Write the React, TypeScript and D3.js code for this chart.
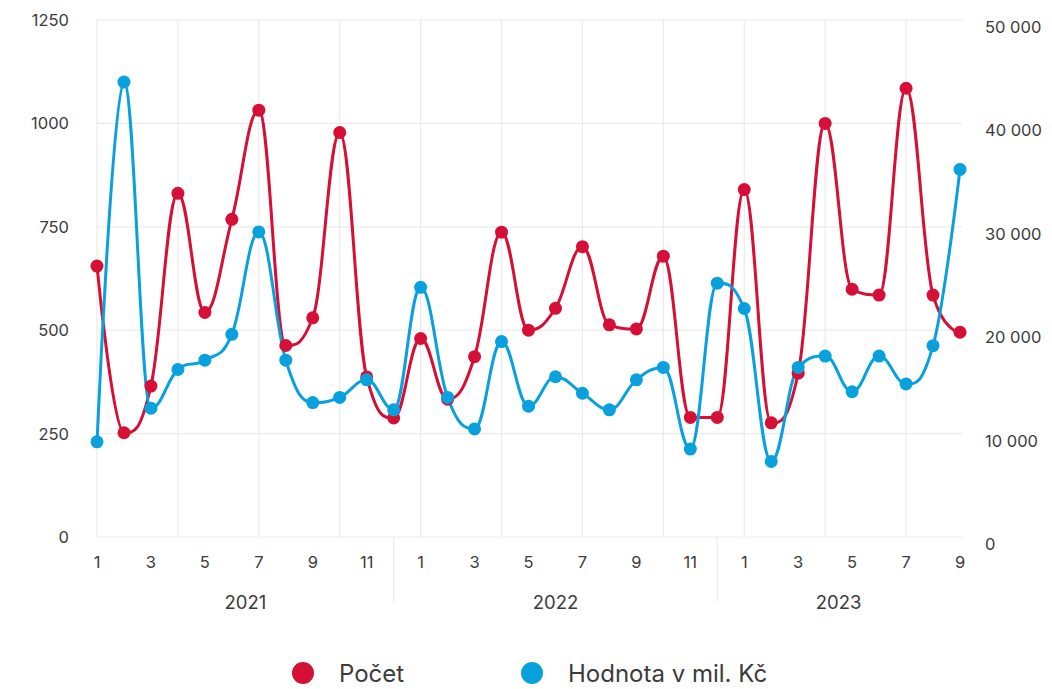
import React from "react";
import * as d3 from "d3";

const years = ["2021", "2022", "2023"];
const monthsPerYear = [12, 12, 9];
const count = [655, 252, 365, 831, 543, 768, 1032, 463, 530, 978, 387, 288, 480, 333, 436, 737, 500, 553, 702, 513, 503, 679, 289, 289, 840, 276, 396, 1000, 599, 585, 1085, 585, 495];
const value = [9200, 44000, 12450, 16200, 17100, 19600, 29500, 17100, 13000, 13500, 15200, 12300, 24150, 13500, 10450, 18900, 12650, 15500, 13900, 12300, 15200, 16400, 8500, 24550, 22100, 7300, 16400, 17500, 14050, 17500, 14800, 18500, 35550];
const leftTicks = [0, 250, 500, 750, 1000, 1250];
const rightTicks = [0, 10000, 20000, 30000, 40000, 50000];
const seriesNames = ["Počet", "Hodnota v mil. Kč"];
const colors = ["#d50f36", "#09a1dd"];

type P = { x: number; y: number };

function splinePath(pts: P[]): string {
  const smoothing = 1.5;
  const denom = smoothing + 1;
  const path = d3.path();
  const rc: { x?: number; y?: number }[] = pts.map(() => ({}));
  pts.forEach((p, i) => {
    const last = pts[i - 1];
    const next = pts[i + 1];
    let lcx: number | undefined, lcy: number | undefined;
    if (last && next) {
      lcx = (smoothing * p.x + last.x) / denom;
      lcy = (smoothing * p.y + last.y) / denom;
      const rcx = (smoothing * p.x + next.x) / denom;
      let rcy = (smoothing * p.y + next.y) / denom;
      let correction = 0;
      if (rcx !== lcx) {
        correction = ((rcy - lcy) * (rcx - p.x)) / (rcx - lcx) + p.y - rcy;
      }
      lcy += correction;
      rcy += correction;
      if (lcy > last.y && lcy > p.y) {
        lcy = Math.max(last.y, p.y);
        rcy = 2 * p.y - lcy;
      } else if (lcy < last.y && lcy < p.y) {
        lcy = Math.min(last.y, p.y);
        rcy = 2 * p.y - lcy;
      }
      if (rcy > next.y && rcy > p.y) {
        rcy = Math.max(next.y, p.y);
        lcy = 2 * p.y - rcy;
      } else if (rcy < next.y && rcy < p.y) {
        rcy = Math.min(next.y, p.y);
        lcy = 2 * p.y - rcy;
      }
      rc[i] = { x: rcx, y: rcy };
    }
    if (i === 0) {
      path.moveTo(p.x, p.y);
    } else {
      const l = rc[i - 1];
      path.bezierCurveTo(
        l.x ?? last.x,
        l.y ?? last.y,
        lcx ?? p.x,
        lcy ?? p.y,
        p.x,
        p.y
      );
    }
  });
  return path.toString();
}

const fmt = (v: number) => d3.format(",")(v).replace(/,/g, " ");

export default function App() {
  const W = 1052, H = 689;
  const left = 97, right = 960, top = 20, bottom = 537;
  const keys: string[] = [];
  const monthLabels: string[] = [];
  years.forEach((y, yi) => {
    for (let m = 1; m <= monthsPerYear[yi]; m++) {
      keys.push(`${y}-${m}`);
      monthLabels.push(String(m));
    }
  });
  const x = d3.scalePoint<string>().domain(keys).range([left, right]);
  const yL = d3.scaleLinear().domain([0, 1250]).range([bottom, top]);
  const yR = d3.scaleLinear().domain([0, 50000]).range([bottom, top]);

  const redPts = count.map((v, i) => ({ x: x(keys[i])!, y: yL(v) }));
  const bluePts = value.map((v, i) => ({ x: x(keys[i])!, y: yR(v) }));

  const groups: { label: string; start: number; end: number }[] = [];
  let idx = 0;
  years.forEach((y, yi) => {
    const startIdx = idx === 0 ? 0 : idx - 1;
    const endIdx = idx + monthsPerYear[yi] - 1;
    groups.push({
      label: y,
      start: x(keys[startIdx])!,
      end: yi === years.length - 1 ? right : x(keys[endIdx])!,
    });
    idx += monthsPerYear[yi];
  });

  const font = "Inter, 'DejaVu Sans', sans-serif";
  const textColor = "#3b3b3b";
  const grid = "#ebebeb";

  return (
    <svg
      width={W}
      height={H}
      style={{ position: "absolute", left: 0, top: 0, background: "#fff" }}
      fontFamily={font}
    >
      <rect width={W} height={H} fill="#fff" />
      {leftTicks.map((t) => (
        <line key={"h" + t} x1={left} x2={right + 2} y1={yL(t)} y2={yL(t)} stroke={grid} strokeWidth={1.2} />
      ))}
      {keys.map((k, i) =>
        i % 3 === 0 ? (
          <line key={"v" + k} x1={x(k)} x2={x(k)} y1={top} y2={bottom} stroke={grid} strokeWidth={1.2} />
        ) : null
      )}
      {groups.slice(1).map((g) => (
        <line key={"s" + g.label} x1={g.start} x2={g.start} y1={bottom} y2={602} stroke={grid} strokeWidth={1.2} />
      ))}
      {leftTicks.map((t) => (
        <text key={"l" + t} x={69} y={yL(t) + 6} textAnchor="end" fontSize={16.5} fill={textColor}>
          {t}
        </text>
      ))}
      {rightTicks.map((t) => (
        <text key={"r" + t} x={985} y={yR(t) + 13} textAnchor="start" fontSize={16.5} fill={textColor}>
          {fmt(t)}
        </text>
      ))}
      {keys.map((k, i) =>
        Number(monthLabels[i]) % 2 === 1 ? (
          <text key={"m" + k} x={x(k)} y={568} textAnchor="middle" fontSize={16.5} fill={textColor}>
            {monthLabels[i]}
          </text>
        ) : null
      )}
      {groups.map((g) => (
        <text key={"y" + g.label} x={(g.start + g.end) / 2} y={609} textAnchor="middle" fontSize={18.5} fill={textColor}>
          {g.label}
        </text>
      ))}
      <path d={splinePath(redPts)} fill="none" stroke={colors[0]} strokeWidth={3} />
      <path d={splinePath(bluePts)} fill="none" stroke={colors[1]} strokeWidth={3} />
      {redPts.map((p, i) => (
        <circle key={"rc" + i} cx={p.x} cy={p.y} r={6.5} fill={colors[0]} />
      ))}
      {bluePts.map((p, i) => (
        <circle key={"bc" + i} cx={p.x} cy={p.y} r={6.5} fill={colors[1]} />
      ))}
      {seriesNames.map((n, i) => {
        const cx = i === 0 ? 303 : 532;
        return (
          <g key={"lg" + n}>
            <circle cx={cx} cy={673} r={11} fill={colors[i]} />
            <text x={cx + 36} y={682} fontSize={24} fill={textColor}>
              {n}
            </text>
          </g>
        );
      })}
    </svg>
  );
}
